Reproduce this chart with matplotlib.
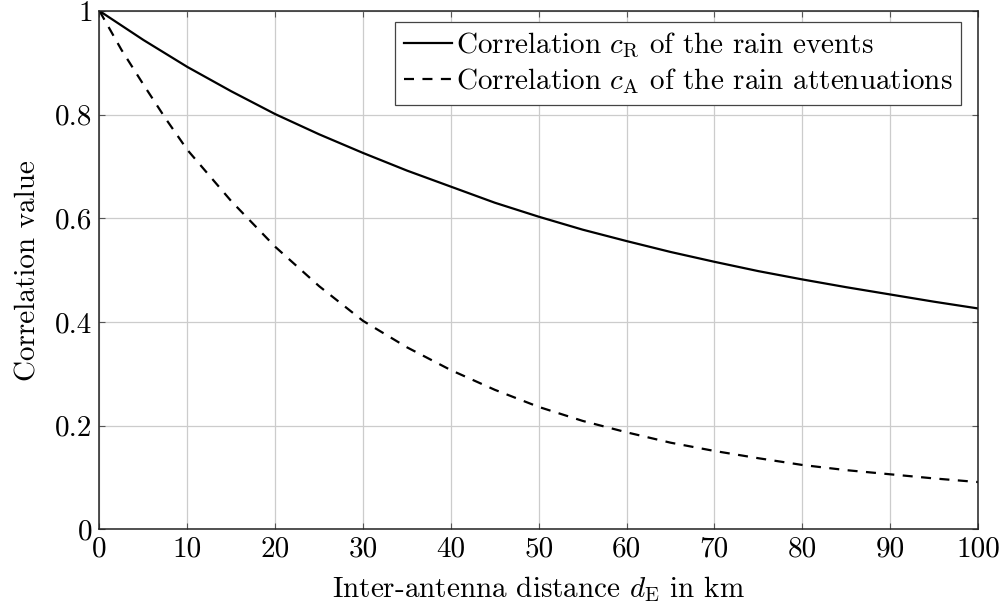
#!/usr/bin/env python3
"""Correlation of rain events and rain attenuations versus antenna distance."""

import matplotlib

matplotlib.use("Agg")
import matplotlib.pyplot as plt
from matplotlib.ticker import FuncFormatter

# values
distance_km = [0, 2.5, 5, 7.5, 10, 15, 20, 25, 30, 35, 40, 45, 50, 55, 60, 65, 70, 75, 80, 85, 90, 95, 100]
corr_rain_events = [1.0, 0.972, 0.944, 0.918, 0.892, 0.845, 0.801, 0.762, 0.726, 0.692, 0.661, 0.630,
                    0.603, 0.578, 0.556, 0.535, 0.516, 0.498, 0.482, 0.467, 0.453, 0.439, 0.426]
corr_attenuations = [1.0, 0.925, 0.858, 0.793, 0.732, 0.633, 0.545, 0.469, 0.402, 0.351, 0.307, 0.269,
                     0.236, 0.209, 0.187, 0.167, 0.151, 0.137, 0.124, 0.114, 0.106, 0.098, 0.091]

x_ticks = [0, 10, 20, 30, 40, 50, 60, 70, 80, 90, 100]
y_ticks = [0, 0.2, 0.4, 0.6, 0.8, 1.0]

plt.rcParams.update(
    {
        "font.family": "serif",
        "font.serif": ["cmr10", "DejaVu Serif"],
        "mathtext.fontset": "cm",
        "axes.formatter.use_mathtext": True,
        "font.size": 21,
    }
)

fig = plt.figure(figsize=(10.01, 6.09), dpi=100)
ax = fig.add_axes([0.0994, 0.131, 0.8776, 0.851])

ax.plot(distance_km, corr_rain_events, "-", color="black", linewidth=1.6,
        label=r"Correlation $c_{\mathrm{R}}$ of the rain events")
ax.plot(distance_km, corr_attenuations, color="black", linewidth=1.6, dashes=(4.5, 3.8),
        label=r"Correlation $c_{\mathrm{A}}$ of the rain attenuations")

ax.set_xlim(0, 100)
ax.set_ylim(0, 1)
ax.set_xticks(x_ticks)
ax.set_yticks(y_ticks)
ax.xaxis.set_major_formatter(FuncFormatter(lambda v, _: f"{v:g}"))
ax.yaxis.set_major_formatter(FuncFormatter(lambda v, _: f"{v:g}"))
ax.tick_params(direction="in", length=4, width=0.8, color="#555555",
               top=True, right=True, pad=5, labelsize=21)
ax.set_axisbelow(True)
ax.grid(True, color="#cccccc", linewidth=0.9)
for spine in ax.spines.values():
    spine.set_linewidth(1.1)
    spine.set_color("#222222")

ax.set_xlabel(r"Inter-antenna distance $d_{\mathrm{E}}$ in km", labelpad=8)
ax.set_ylabel("Correlation value", labelpad=10)

leg = ax.legend(loc="upper right", bbox_to_anchor=(0.9812, 0.9788), borderaxespad=0.0,
                fancybox=False, framealpha=1.0, edgecolor="#444444",
                handlelength=1.65, handletextpad=0.15, borderpad=0.3, labelspacing=0.2,
                fontsize=21)
leg.get_frame().set_linewidth(0.9)

fig.savefig("out.png", dpi=100)
